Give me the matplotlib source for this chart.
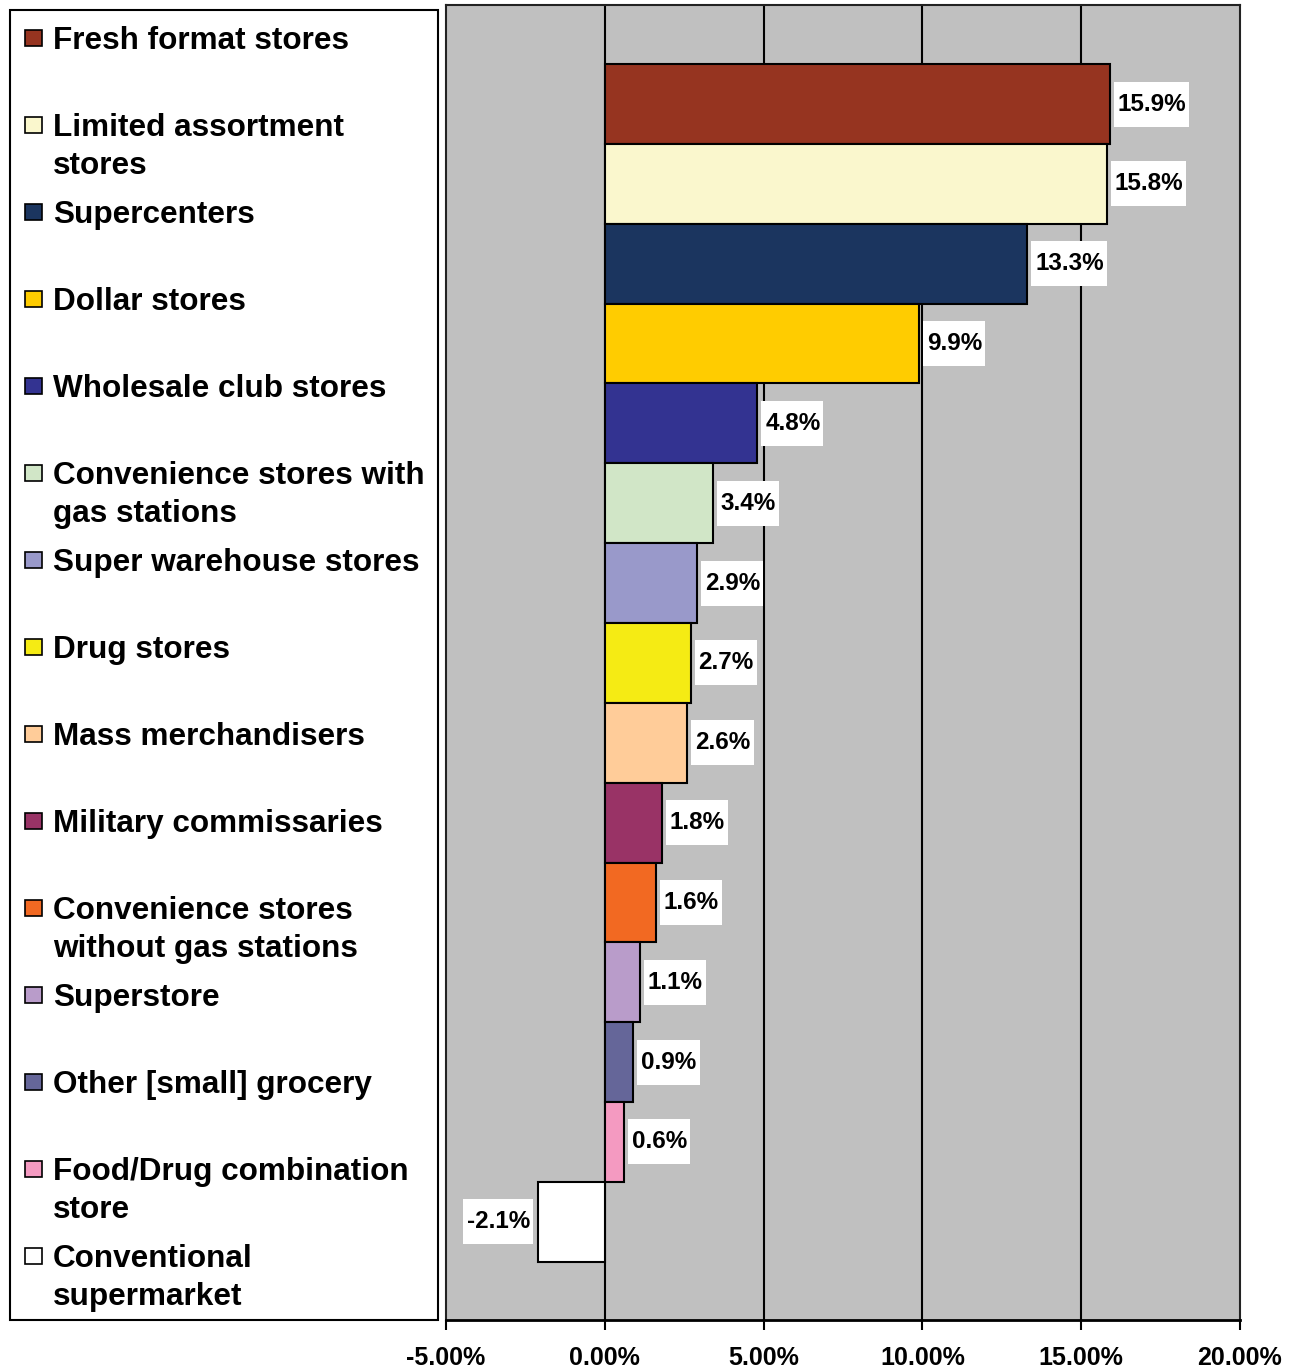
import matplotlib
matplotlib.use("Agg")
import matplotlib.pyplot as plt
from matplotlib.patches import Rectangle
import numpy as np

plt.rcParams['font.family'] = ['Liberation Sans', 'DejaVu Sans']
plt.rcParams['font.weight'] = 'bold'

# data
formats = ['Fresh format stores', 'Limited assortment\nstores', 'Supercenters',
           'Dollar stores', 'Wholesale club stores',
           'Convenience stores with\ngas stations', 'Super warehouse stores',
           'Drug stores', 'Mass merchandisers', 'Military commissaries',
           'Convenience stores\nwithout gas stations', 'Superstore',
           'Other [small] grocery', 'Food/Drug combination\nstore',
           'Conventional\nsupermarket']
growth = [15.9, 15.8, 13.3, 9.9, 4.8, 3.4, 2.9, 2.7, 2.6, 1.8, 1.6, 1.1, 0.9, 0.6, -2.1]
colors = ['#963420', '#FAF7CD', '#1B355F', '#FFCC00', '#333391', '#D1E6C7',
          '#9999CA', '#F5EB14', '#FFCC99', '#993366', '#F26922', '#B99CCA',
          '#656699', '#F49AC1', '#FFFFFF']
xticks = [-5, 0, 5, 10, 15, 20]

W, H = 1295, 1371
fig = plt.figure(figsize=(W / 100, H / 100), dpi=100)

ax = fig.add_axes([446 / W, 51 / H, 794 / W, 1315 / H])
ax.set_facecolor('#C0C0C0')
ypos = np.arange(len(growth))
ax.barh(ypos, growth, height=1.0, color=colors, edgecolor='black', linewidth=1.5, zorder=3)
ax.set_xlim(-5, 20)
ax.set_ylim(len(growth) - 1 + 1.23, -1.24)
for t in xticks[1:-1]:
    ax.axvline(t, color='black', lw=1.5, zorder=1)

ax.set_xticks(xticks)
ax.set_xticklabels([f'{t:.2f}%' for t in xticks])
ax.set_yticks([])
ax.tick_params(axis='x', direction='out', length=7, width=1.5, pad=12, labelsize=18)
for s in ['top', 'left', 'right']:
    ax.spines[s].set_linewidth(1.5)
    ax.spines[s].set_color('#222222')
ax.spines['bottom'].set_linewidth(2)

# value labels
labels = []
for y, v in zip(ypos, growth):
    off = 8 if v >= 0 else -8
    t = ax.annotate(f'{v}%', xy=(v, y), xytext=(off, 0), textcoords='offset pixels',
                    ha='left' if v >= 0 else 'right', va='center', fontsize=17.5,
                    fontweight='bold', zorder=5)
    labels.append(t)

# white boxes behind the labels (more padding top/bottom than sides)
fig.canvas.draw()
inv = ax.transData.inverted()
for t in labels:
    bb = t.get_window_extent()
    (x0, y0), (x1, y1) = inv.transform([(bb.x0 - 4, bb.y0 - 11), (bb.x1 + 3, bb.y1 + 11)])
    ax.add_patch(Rectangle((x0, y0), x1 - x0, y1 - y0, facecolor='white',
                           edgecolor='none', zorder=4))

# legend drawn on an overlay in pixel coordinates
lg = fig.add_axes([0, 0, 1, 1])
lg.set_xlim(0, W)
lg.set_ylim(H, 0)
lg.axis('off')
lg.add_patch(Rectangle((10, 10), 428, 1310, facecolor='white', edgecolor='black', lw=1.5))
for i, (name, c) in enumerate(zip(formats, colors)):
    cy = 38 + 87 * i
    lg.add_patch(Rectangle((25, cy - 8), 17, 16, facecolor=c, edgecolor='black', lw=1.2))
    for j, line in enumerate(name.split('\n')):
        lg.text(53, cy + 11 + 38 * j, line, fontsize=22.7, fontweight='bold',
                va='baseline', ha='left')

plt.savefig('out.png', dpi=100)
